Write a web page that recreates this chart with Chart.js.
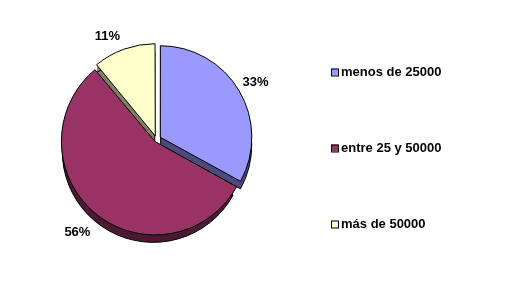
<!DOCTYPE html>
<html>
<head>
<meta charset="utf-8">
<script src="https://cdn.jsdelivr.net/npm/chart.js@4/dist/chart.umd.min.js"></script>
<style>
  html, body { margin: 0; padding: 0; background: #ffffff; }
  #wrap { width: 530px; height: 288px; }
</style>
</head>
<body>
<div id="wrap"><canvas id="c" width="530" height="288"></canvas></div>
<script>
// ---- data ----
const categories = ['menos de 25000', 'entre 25 y 50000', 'más de 50000'];
const values = [33, 56, 11];
const faceColors = ['#9999FF', '#993366', '#FFFFCC'];
const sideColors = ['#4C4C80', '#4C1A33', '#808066'];

const FONT = 'bold 13px "Liberation Sans", Arial, sans-serif';
const DEPTH = 8;

function effOffset(el) {
  const off = (el.options.offset || 0) / 4;
  const circ = el.endAngle - el.startAngle;
  const fix = 1 - Math.sin(Math.min(Math.PI, circ || 0));
  return off + off * fix;
}

const depthPlugin = {
  id: 'depth3d',
  beforeDatasetsDraw(chart) {
    const ctx = chart.ctx;
    const meta = chart.getDatasetMeta(0);
    meta.data.forEach((el, i) => {
      const p = el.getProps(['x', 'y', 'startAngle', 'endAngle', 'outerRadius'], true);
      const mid = (p.startAngle + p.endAngle) / 2;
      const e = effOffset(el);
      const cx = p.x + Math.cos(mid) * e;
      const cy = p.y + Math.sin(mid) * e;
      ctx.save();
      ctx.fillStyle = sideColors[i];
      for (let d = DEPTH; d >= 1; d--) {
        ctx.beginPath();
        ctx.moveTo(cx, cy + d);
        ctx.arc(cx, cy + d, p.outerRadius, p.startAngle, p.endAngle);
        ctx.closePath();
        ctx.fill();
      }
      ctx.strokeStyle = '#000';
      ctx.lineWidth = 1;
      ctx.beginPath();
      ctx.moveTo(cx, cy + DEPTH);
      ctx.arc(cx, cy + DEPTH, p.outerRadius, p.startAngle, p.endAngle);
      ctx.closePath();
      ctx.stroke();
      ctx.restore();
    });
  }
};

const labelPlugin = {
  id: 'pctLabels',
  afterDatasetsDraw(chart) {
    const ctx = chart.ctx;
    const meta = chart.getDatasetMeta(0);
    const data = chart.data.datasets[0].data;
    const total = data.reduce((a, b) => a + b, 0);
    ctx.save();
    ctx.font = FONT;
    ctx.fillStyle = '#000';
    ctx.textAlign = 'center';
    ctx.textBaseline = 'middle';
    meta.data.forEach((el, i) => {
      const p = el.getProps(['x', 'y', 'startAngle', 'endAngle', 'outerRadius'], true);
      const mid = (p.startAngle + p.endAngle) / 2;
      const e = effOffset(el);
      const dx = Math.cos(mid), dy = Math.sin(mid);
      const txt = Math.round(data[i] / total * 100) + '%';
      const w = ctx.measureText(txt).width;
      const r = p.outerRadius + 16;
      let x = p.x + dx * (e + r);
      let y = p.y + dy * (e + r) + DEPTH * Math.max(0, dy);
      if (dx < 0) x -= w * 0.5 * dy * dy; else x += w * 0.1;
      if (dy < 0 && dx < 0) y += 2;
      ctx.fillText(txt, x, y);
    });
    ctx.restore();
  }
};

const legendPlugin = {
  id: 'sideLegend',
  afterDraw(chart) {
    const ctx = chart.ctx;
    const labels = chart.data.labels;
    const colors = chart.data.datasets[0].backgroundColor;
    const x0 = 331, ys = [72, 148, 224];
    ctx.save();
    ctx.font = FONT;
    ctx.textAlign = 'left';
    ctx.textBaseline = 'middle';
    labels.forEach((lab, i) => {
      const y = ys[i];
      ctx.fillStyle = colors[i];
      ctx.fillRect(x0, y - 3.5, 7, 7);
      ctx.strokeStyle = '#000';
      ctx.lineWidth = 1;
      ctx.strokeRect(x0 + 0.5, y - 3.5 + 0.5, 7, 7);
      ctx.fillStyle = '#000';
      ctx.fillText(lab, x0 + 10, y + 0.5);
    });
    ctx.restore();
  }
};

new Chart(document.getElementById('c'), {
  type: 'pie',
  data: {
    labels: categories,
    datasets: [{
      data: values,
      backgroundColor: faceColors,
      borderColor: '#000000',
      borderWidth: 1,
      offset: [17.5, 10, 14.7]
    }]
  },
  options: {
    responsive: false,
    animation: false,
    radius: 91,
    layout: { padding: { left: 0, right: 217, top: 30, bottom: 39 } },
    plugins: {
      legend: { display: false },
      tooltip: { enabled: false }
    }
  },
  plugins: [depthPlugin, labelPlugin, legendPlugin]
});
</script>
</body>
</html>
